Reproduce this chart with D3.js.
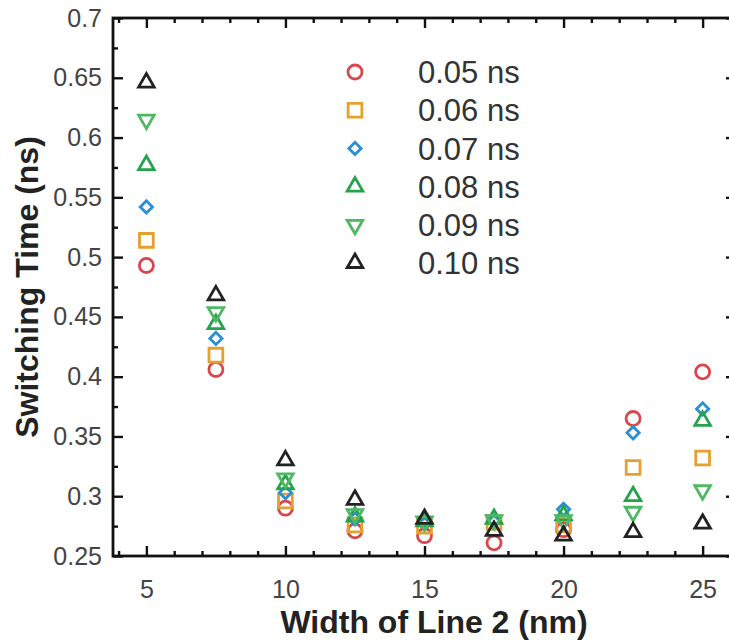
<!DOCTYPE html>
<html>
<head>
<meta charset="utf-8">
<script src="https://cdn.jsdelivr.net/npm/d3@7"></script>
<style>
  body { margin: 0; background: #fff; }
  text { font-family: "Liberation Sans", Arial, sans-serif; }
</style>
</head>
<body>
<div id="chart"></div>
<script>
// data
const widths = [5, 7.5, 10, 12.5, 15, 17.5, 20, 22.5, 25];
const pulseLabels = ["0.05 ns", "0.06 ns", "0.07 ns", "0.08 ns", "0.09 ns", "0.10 ns"];
const t005 = [0.493, 0.406, 0.290, 0.271, 0.267, 0.261, 0.272, 0.365, 0.404];
const t006 = [0.514, 0.418, 0.296, 0.276, 0.275, 0.278, 0.276, 0.324, 0.332];
const t007 = [0.542, 0.432, 0.303, 0.281, 0.277, 0.279, 0.289, 0.353, 0.373];
const t008 = [0.577, 0.444, 0.310, 0.283, 0.279, 0.281, 0.284, 0.300, 0.363];
const t009 = [0.615, 0.454, 0.315, 0.285, 0.279, 0.280, 0.280, 0.287, 0.305];
const t010 = [0.646, 0.468, 0.330, 0.297, 0.281, 0.271, 0.267, 0.270, 0.277];
const xTicks = [5, 10, 15, 20, 25];
const yTicks = [0.25, 0.3, 0.35, 0.4, 0.45, 0.5, 0.55, 0.6, 0.65, 0.7];
const xTitle = "Width of Line 2 (nm)";
const yTitle = "Switching Time (ns)";

const series = [t005, t006, t007, t008, t009, t010];
const colors = ["#d9474d", "#e6a030", "#2b8fd6", "#24a34c", "#4fb865", "#222222"];
const shapes = ["circle", "square", "diamond", "up", "down", "up"];

const W = 729, H = 644;
const margin = {top: 18, right: -7, bottom: 88, left: 113};
const width = W - margin.left - margin.right,
      height = H - margin.top - margin.bottom;

const svg = d3.select("#chart").append("svg")
    .attr("width", W)
    .attr("height", H);

const g = svg.append("g")
    .attr("transform", "translate(" + margin.left + "," + margin.top + ")");

const x = d3.scaleLinear().domain([3.8, 26.2]).range([0, width]);
const y = d3.scaleLinear().domain([0.25, 0.7]).range([height, 0]);

const minorX = d3.range(4, 27, 1).filter(d => d % 5 !== 0);
const minorY = d3.range(0.275, 0.7, 0.05);

function styleAxis(sel) {
  sel.select(".domain").remove();
  sel.selectAll("line").attr("stroke", "#111").attr("stroke-width", 2.4);
  sel.selectAll("text")
    .attr("fill", "#444")
    .style("font-size", "25px");
}

// bottom axis, inward ticks
g.append("g")
  .attr("transform", "translate(0," + height + ")")
  .call(d3.axisBottom(x).tickValues(xTicks).tickSize(-10).tickPadding(24).tickFormat(d3.format("d")))
  .call(styleAxis);
g.append("g")
  .attr("transform", "translate(0," + height + ")")
  .call(d3.axisBottom(x).tickValues(minorX).tickSize(-5).tickFormat(""))
  .call(styleAxis);

// top axis
g.append("g")
  .call(d3.axisTop(x).tickValues(xTicks).tickSize(-10).tickFormat(""))
  .call(styleAxis);
g.append("g")
  .call(d3.axisTop(x).tickValues(minorX).tickSize(-5).tickFormat(""))
  .call(styleAxis);

// left axis
g.append("g")
  .call(d3.axisLeft(y).tickValues(yTicks).tickSize(-10).tickPadding(11).tickFormat(d => String(+d.toFixed(2))))
  .call(styleAxis);
g.append("g")
  .call(d3.axisLeft(y).tickValues(minorY).tickSize(-5).tickFormat(""))
  .call(styleAxis);

// right axis
g.append("g")
  .attr("transform", "translate(" + width + ",0)")
  .call(d3.axisRight(y).tickValues(yTicks).tickSize(-10).tickFormat(""))
  .call(styleAxis);
g.append("g")
  .attr("transform", "translate(" + width + ",0)")
  .call(d3.axisRight(y).tickValues(minorY).tickSize(-5).tickFormat(""))
  .call(styleAxis);

// frame
g.append("rect")
  .attr("width", width)
  .attr("height", height)
  .attr("fill", "none")
  .attr("stroke", "#111")
  .attr("stroke-width", 2.8);

// marker shapes
function symbolPath(shape) {
  if (shape === "circle") return d3.symbol(d3.symbolCircle, 155)();
  if (shape === "square") return d3.symbol(d3.symbolSquare, 190)();
  if (shape === "diamond") return d3.symbol(d3.symbolSquare, 75)();
  return d3.symbol(d3.symbolTriangle, 105)();
}
function symbolRotate(shape) {
  if (shape === "diamond") return " rotate(45)";
  if (shape === "down") return " rotate(180)";
  return "";
}

series.forEach(function(vals, i) {
  g.append("g")
    .selectAll("path")
    .data(vals.map((v, j) => ({x: widths[j], y: v})))
    .enter()
    .append("path")
      .attr("d", symbolPath(shapes[i]))
      .attr("transform", d => "translate(" + x(d.x) + "," + y(d.y) + ")" + symbolRotate(shapes[i]))
      .attr("fill", "none")
      .attr("stroke", colors[i])
      .attr("stroke-width", 2.8);
});

// legend
const legend = svg.append("g").attr("transform", "translate(355,72)");
pulseLabels.forEach(function(lbl, i) {
  const row = legend.append("g").attr("transform", "translate(0," + i * 38.2 + ")");
  row.append("path")
    .attr("d", symbolPath(shapes[i]))
    .attr("transform", symbolRotate(shapes[i]).trim())
    .attr("fill", "none")
    .attr("stroke", colors[i])
    .attr("stroke-width", 2.8);
  row.append("text")
    .attr("x", 63)
    .attr("dy", "0.36em")
    .attr("fill", "#333")
    .style("font-size", "31px")
    .text(lbl);
});

// axis titles
svg.append("text")
  .attr("x", 434)
  .attr("y", 633)
  .attr("text-anchor", "middle")
  .attr("fill", "#222")
  .style("font-size", "32px")
  .style("font-weight", "bold")
  .text(xTitle);

svg.append("text")
  .attr("transform", "translate(38,287) rotate(-90)")
  .attr("text-anchor", "middle")
  .attr("fill", "#222")
  .style("font-size", "32px")
  .style("font-weight", "bold")
  .text(yTitle);
</script>
</body>
</html>
